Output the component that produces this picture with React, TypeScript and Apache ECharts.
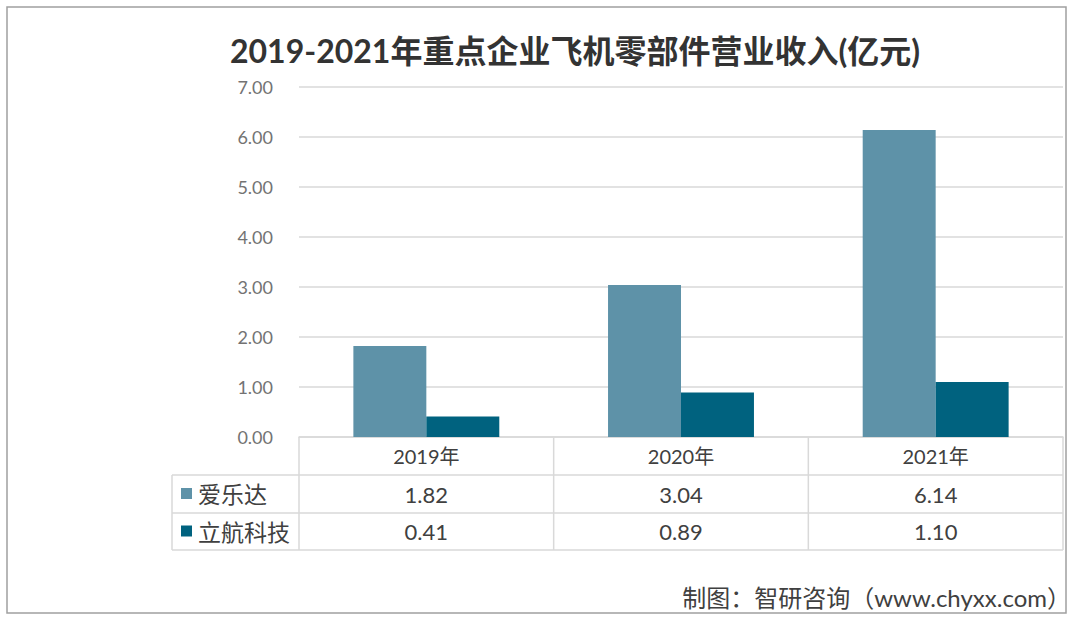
import React, { useEffect, useRef } from "react";
import * as echarts from "echarts";

const titleText = "2019-2021年重点企业飞机零部件营业收入(亿元)";
const sourceText = "制图：智研咨询（www.chyxx.com）";
const categories = ["2019年", "2020年", "2021年"];
const seriesNames = ["爱乐达", "立航科技"];
const aileda = [1.82, 3.04, 6.14];
const lihang = [0.41, 0.89, 1.1];
const seriesColors = ["#5e92a8", "#00627f"];

const LATIN = "Lato, 'Noto Sans CJK SC', sans-serif";
const GRID_COLOR = "#d9d9d9";

export default function App() {
  const ref = useRef<HTMLDivElement>(null);
  useEffect(() => {
    if (!ref.current) return;
    const chart = echarts.init(ref.current, null, { renderer: "svg" });
    const gridLeft = 299;
    const gridRight = 1063;
    const gridTop = 87;
    const gridBottom = 437;
    chart.setOption({
      animation: false,
      backgroundColor: "#ffffff",
      grid: {
        left: gridLeft,
        right: 1075 - gridRight,
        top: gridTop,
        bottom: 621 - gridBottom,
        containLabel: false,
      },
      xAxis: {
        type: "category",
        data: categories,
        axisLine: { show: true, lineStyle: { color: GRID_COLOR, width: 1.5 } },
        axisTick: { show: false },
        axisLabel: { show: false },
      },
      yAxis: {
        type: "value",
        min: 0,
        max: 7,
        interval: 1,
        axisLine: { show: false },
        axisTick: { show: false },
        axisLabel: {
          formatter: (v: number) => v.toFixed(2),
          color: "#737373",
          fontSize: 18,
          fontFamily: LATIN,
          margin: 26,
        },
        splitLine: { lineStyle: { color: GRID_COLOR, width: 1.5 } },
      },
      series: [
        {
          name: seriesNames[0],
          type: "bar",
          data: aileda,
          itemStyle: { color: seriesColors[0] },
          barGap: "0%",
          barCategoryGap: "42.7%",
        },
        {
          name: seriesNames[1],
          type: "bar",
          data: lihang,
          itemStyle: { color: seriesColors[1] },
          barGap: "0%",
          barCategoryGap: "42.7%",
        },
      ],
    });

    const band = (gridRight - gridLeft) / categories.length;
    const centers = categories.map((_, i) => {
      const p = chart.convertToPixel({ xAxisIndex: 0 }, i) as number;
      return typeof p === "number" ? p : gridLeft + band * (i + 0.5);
    });
    const rowTops = [437, 475, 513, 550];
    const tableLeft = 172;
    const els: any[] = [];
    const ls = { stroke: GRID_COLOR, lineWidth: 1.5 };
    els.push({
      type: "rect",
      shape: { x: 7, y: 7, width: 1059, height: 606 },
      style: { fill: "none", stroke: "#a0a0a0", lineWidth: 1.5 },
    });
    for (let r = 1; r < rowTops.length; r++) {
      els.push({ type: "line", shape: { x1: tableLeft, y1: rowTops[r], x2: gridRight, y2: rowTops[r] }, style: ls });
    }
    els.push({ type: "line", shape: { x1: tableLeft, y1: rowTops[1], x2: tableLeft, y2: rowTops[3] }, style: ls });
    for (let i = 0; i <= categories.length; i++) {
      const x = i < categories.length ? centers[i] - band / 2 : centers[categories.length - 1] + band / 2;
      els.push({ type: "line", shape: { x1: x, y1: rowTops[0], x2: x, y2: rowTops[3] }, style: ls });
    }
    categories.forEach((c, i) => {
      els.push({
        type: "text",
        style: {
          text: c,
          x: centers[i],
          y: (rowTops[0] + rowTops[1]) / 2,
          textAlign: "center",
          textVerticalAlign: "middle",
          fontSize: 20,
          fontFamily: LATIN,
          fill: "#404040",
        },
      });
    });
    const rows = [aileda, lihang];
    rows.forEach((vals, r) => {
      const yMid = (rowTops[r + 1] + rowTops[r + 2]) / 2;
      els.push({
        type: "rect",
        shape: { x: 181, y: yMid - 6, width: 11, height: 11 },
        style: { fill: seriesColors[r] },
      });
      els.push({
        type: "text",
        style: {
          text: seriesNames[r],
          x: 198,
          y: yMid,
          textAlign: "left",
          textVerticalAlign: "middle",
          fontSize: 23,
          fontFamily: LATIN,
          fill: "#404040",
        },
      });
      vals.forEach((v, i) => {
        els.push({
          type: "text",
          style: {
            text: v.toFixed(2),
            x: centers[i],
            y: yMid,
            textAlign: "center",
            textVerticalAlign: "middle",
            fontSize: 22,
            fontFamily: LATIN,
            fill: "#404040",
          },
        });
      });
    });
    els.push({
      type: "text",
      style: {
        text: titleText,
        x: 575,
        y: 50,
        textAlign: "center",
        textVerticalAlign: "middle",
        fontSize: 32,
        fontWeight: "bold",
        fontFamily: LATIN,
        fill: "#333333",
      },
    });
    els.push({
      type: "text",
      style: {
        text: sourceText,
        x: 1071,
        y: 597,
        textAlign: "right",
        textVerticalAlign: "middle",
        fontSize: 24,
        fontFamily: LATIN,
        fill: "#404040",
      },
    });
    chart.setOption({ graphic: { elements: els } });
    return () => chart.dispose();
  }, []);
  return (
    <div
      ref={ref}
      style={{ position: "fixed", left: 0, top: 0, width: 1075, height: 621 }}
    />
  );
}
